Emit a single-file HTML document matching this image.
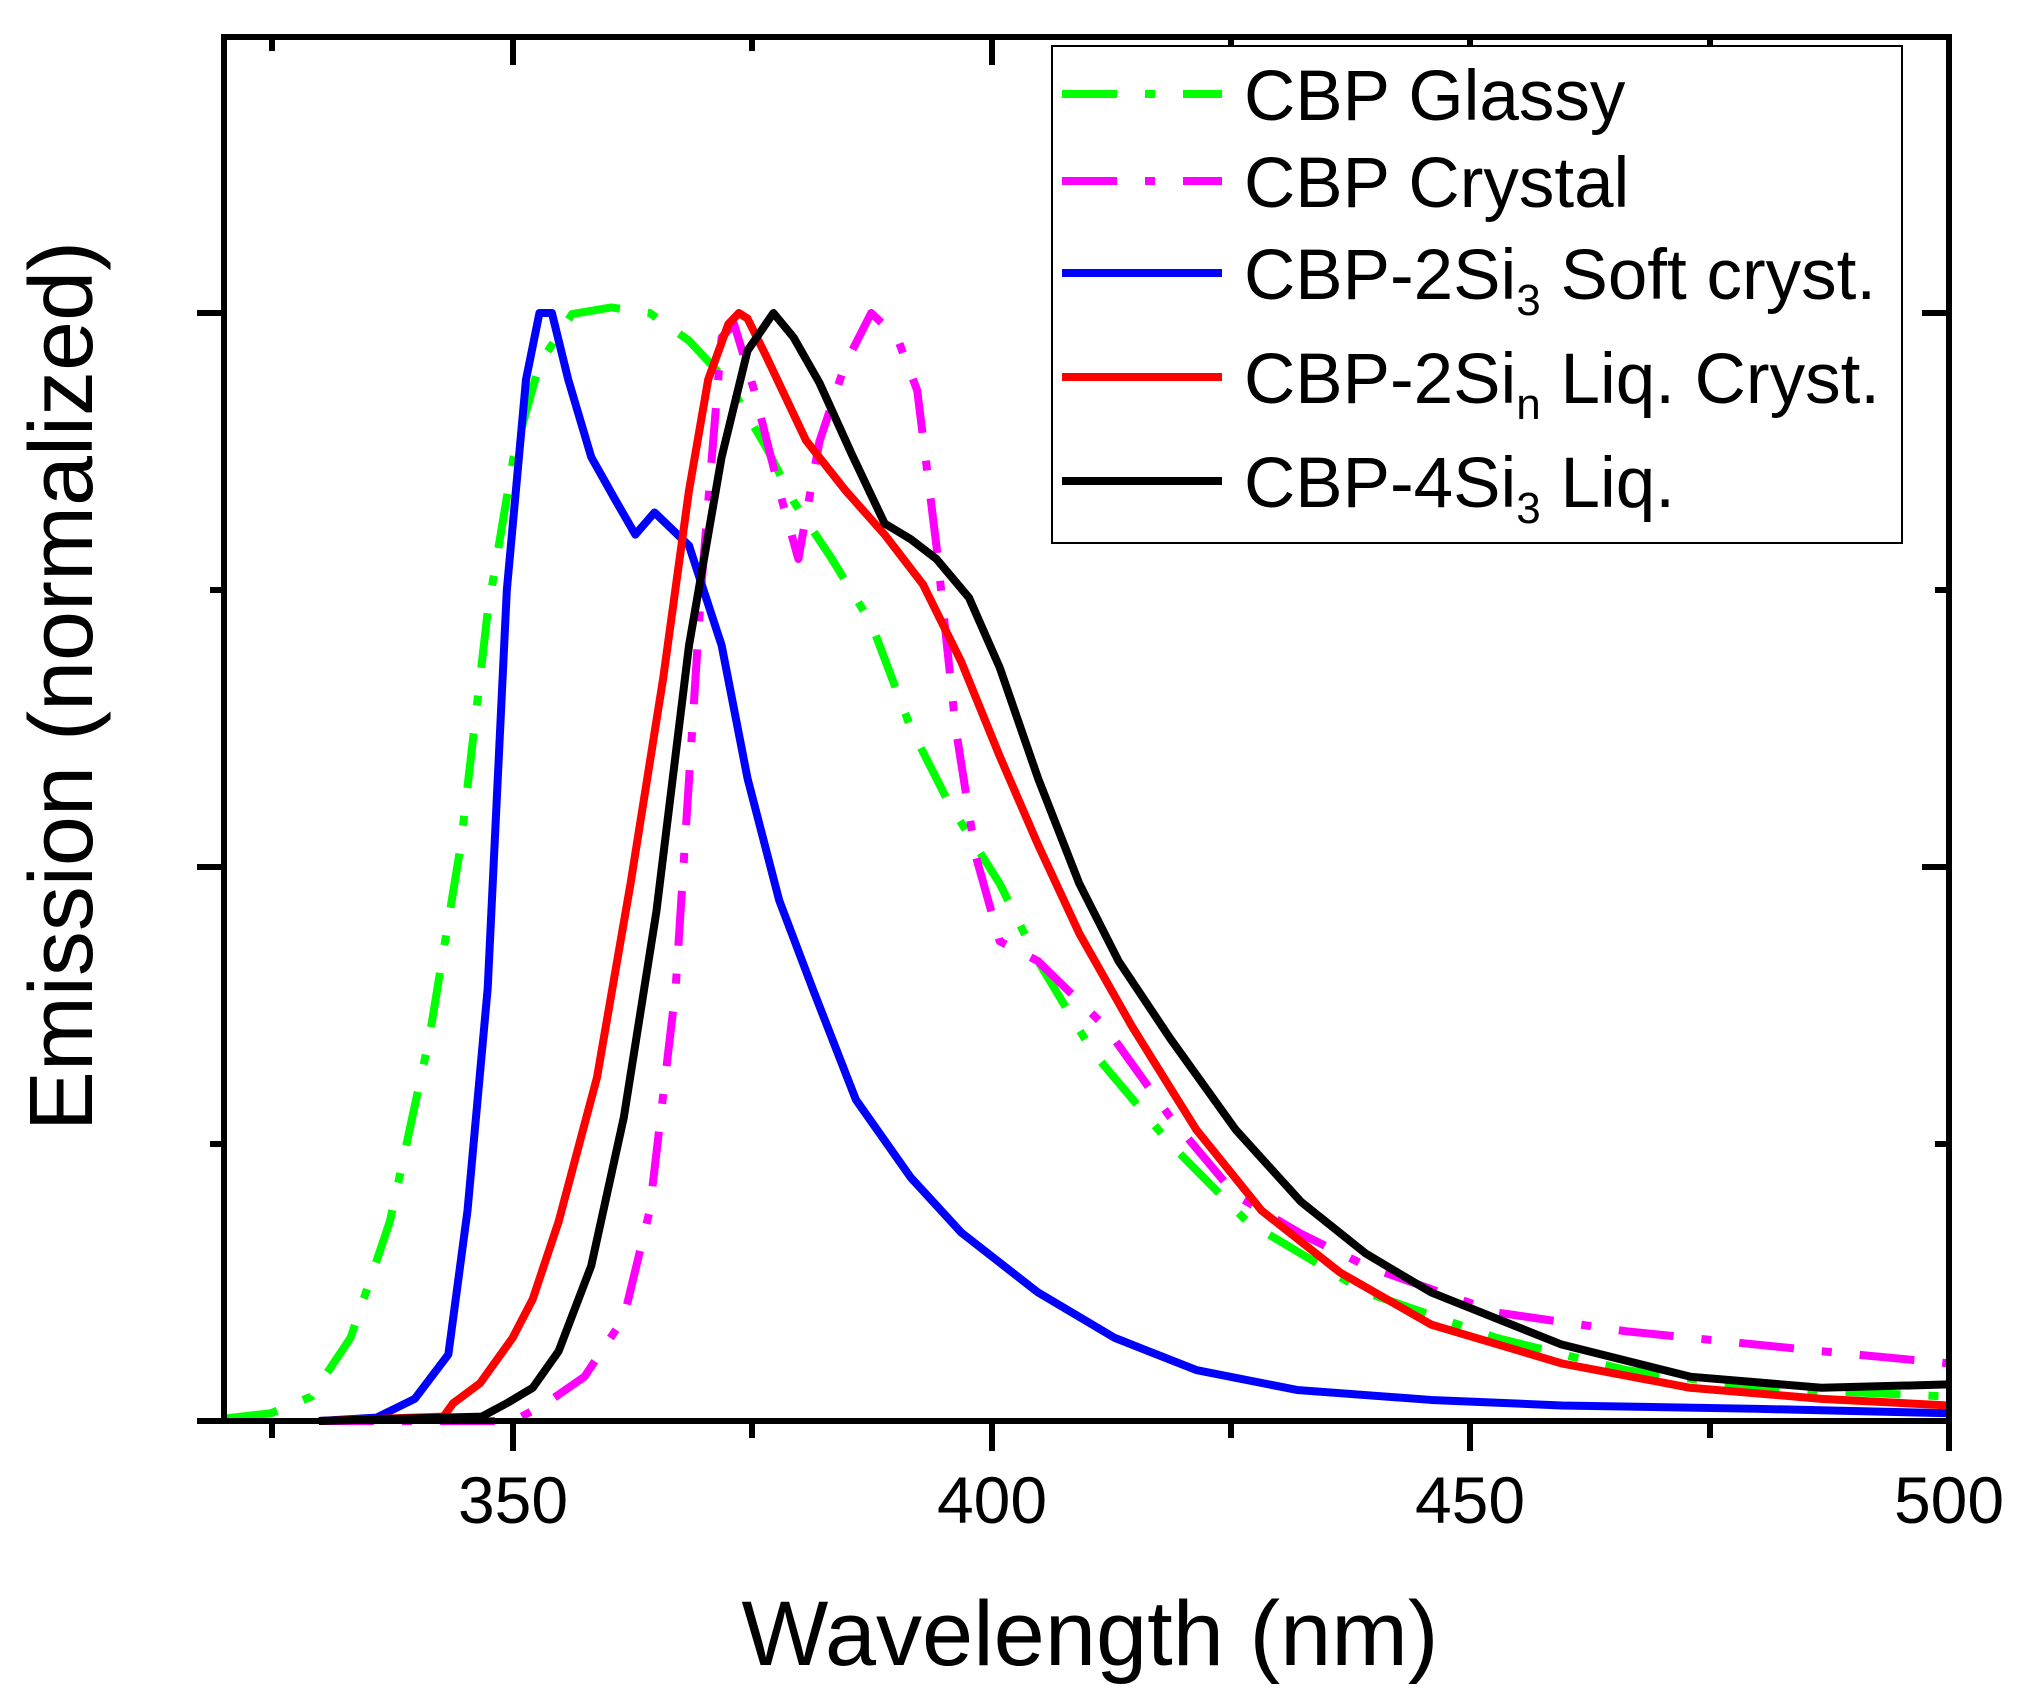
<!DOCTYPE html>
<html><head><meta charset="utf-8"><style>
body{margin:0;background:#fff;}
svg{display:block;font-family:"Liberation Sans",sans-serif;}
</style></head><body>
<svg width="2037" height="1693" viewBox="0 0 2037 1693" xmlns="http://www.w3.org/2000/svg">
<rect width="2037" height="1693" fill="#fff"/>
<g fill="none" stroke-linejoin="round" transform="translate(223,1421) scale(9.589,-1108) translate(-320,0)">
<polyline vector-effect="non-scaling-stroke" stroke-width="8" stroke="#00ff00" stroke-dasharray="55 28 10 28" points="320,0.002 325,0.007 329.2,0.022 333.3,0.075 337.4,0.18 341.5,0.345 344.8,0.52 347.6,0.73 350.3,0.87 353,0.954 356.4,0.999 360.5,1.005 364.5,1.0 368.6,0.975 372.7,0.937 376.7,0.878 379.5,0.83 383.5,0.778 387.6,0.72 391.7,0.626 395.8,0.556 401,0.485 405,0.415 410.7,0.333 418.8,0.25 426.8,0.18 439.2,0.116 452.8,0.075 466.3,0.046 480,0.03 500,0.022"/>
<polyline vector-effect="non-scaling-stroke" stroke-width="8" stroke="#ff00ff" stroke-dasharray="55 28 10 28" points="330,0 350.3,0 353.7,0.016 357.7,0.04 361.8,0.093 364.5,0.19 367.2,0.39 369.9,0.755 372,0.978 373.3,0.99 375.4,0.93 378.1,0.837 380,0.778 382.2,0.884 384.9,0.954 387.6,1.0 390.3,0.978 392.4,0.93 394.4,0.79 396.4,0.626 398.5,0.51 401,0.433 405,0.415 412,0.356 418.8,0.274 425.6,0.204 432.4,0.169 439.2,0.14 452.8,0.098 466.3,0.081 486.7,0.063 500,0.052"/>
<polyline vector-effect="non-scaling-stroke" stroke-width="8" stroke="#0000ff" points="330,0 336,0.003 340,0.02 343.5,0.06 345.5,0.19 347.6,0.39 349.6,0.75 351.6,0.94 353,1.0 354.3,1.0 356,0.94 358.4,0.87 361,0.83 363,0.80 365,0.82 368.6,0.79 372,0.70 374.7,0.58 378,0.47 381.5,0.39 386,0.29 391.7,0.22 397,0.17 405,0.116 413,0.075 421.5,0.046 432,0.028 446,0.019 459.6,0.014 480,0.011 500,0.007"/>
<polyline vector-effect="non-scaling-stroke" stroke-width="8" stroke="#ff0000" points="330,0 343,0.004 344,0.016 346.8,0.034 350.2,0.075 352.3,0.11 355,0.18 359,0.31 362.5,0.485 365.9,0.67 368.6,0.84 370.6,0.94 372.7,0.99 373.8,1.0 374.7,0.995 376.7,0.96 380.8,0.885 384.9,0.84 389,0.80 393,0.755 397,0.685 401,0.60 405,0.52 409.3,0.44 414.8,0.356 421.5,0.263 428.3,0.19 436.5,0.134 446,0.087 459.6,0.052 473,0.03 486.7,0.02 500,0.014"/>
<polyline vector-effect="non-scaling-stroke" stroke-width="8" stroke="#000000" points="330,0 347,0.004 349.6,0.016 352.3,0.03 355,0.063 358.4,0.14 361.8,0.274 365.2,0.46 368.6,0.70 372,0.87 374.7,0.966 377.4,1.0 379.5,0.978 382.2,0.937 385.6,0.872 389,0.81 391.7,0.796 394.4,0.778 397.8,0.743 401,0.68 405,0.58 409.3,0.485 413.4,0.415 418.8,0.345 425.6,0.263 432.4,0.198 439.2,0.151 446,0.116 459.6,0.069 473,0.04 486.7,0.03 500,0.033"/>
</g>
<g stroke="#000" stroke-width="6" fill="none">
<rect x="224" y="37" width="1725" height="1384"/>
<line x1="197" y1="1421" x2="224" y2="1421"/>
<line x1="197" y1="867" x2="224" y2="867"/>
<line x1="197" y1="313" x2="224" y2="313"/>
<line x1="210" y1="1144" x2="224" y2="1144"/>
<line x1="210" y1="590" x2="224" y2="590"/>
<line x1="1949" y1="867" x2="1922" y2="867"/>
<line x1="1949" y1="313" x2="1922" y2="313"/>
<line x1="1949" y1="1144" x2="1935" y2="1144"/>
<line x1="1949" y1="590" x2="1935" y2="590"/>
<line x1="513" y1="1421" x2="513" y2="1451"/>
<line x1="992" y1="1421" x2="992" y2="1451"/>
<line x1="1470" y1="1421" x2="1470" y2="1451"/>
<line x1="1949" y1="1421" x2="1949" y2="1451"/>
<line x1="272" y1="1421" x2="272" y2="1438"/>
<line x1="752" y1="1421" x2="752" y2="1438"/>
<line x1="1231" y1="1421" x2="1231" y2="1438"/>
<line x1="1710" y1="1421" x2="1710" y2="1438"/>
<line x1="513" y1="37" x2="513" y2="65"/>
<line x1="992" y1="37" x2="992" y2="65"/>
<line x1="1470" y1="37" x2="1470" y2="65"/>
<line x1="272" y1="37" x2="272" y2="51"/>
<line x1="752" y1="37" x2="752" y2="51"/>
<line x1="1231" y1="37" x2="1231" y2="51"/>
<line x1="1710" y1="37" x2="1710" y2="51"/>
</g>
<rect x="1052" y="46" width="850" height="497" fill="#fff" stroke="#000" stroke-width="2"/>
<g stroke-width="8">
<line x1="1062" y1="94" x2="1222" y2="94" stroke="#00ff00" stroke-dasharray="55 28 10 28"/>
<line x1="1062" y1="181" x2="1222" y2="181" stroke="#ff00ff" stroke-dasharray="55 28 10 28"/>
<line x1="1062" y1="273" x2="1222" y2="273" stroke="#0000ff"/>
<line x1="1062" y1="377" x2="1222" y2="377" stroke="#ff0000"/>
<line x1="1062" y1="481" x2="1222" y2="481" stroke="#000"/>
</g>
<g font-size="71" fill="#000">
<text x="1244" y="120">CBP Glassy</text>
<text x="1244" y="207">CBP Crystal</text>
<text x="1244" y="299">CBP-2Si<tspan font-size="44" dy="16">3</tspan><tspan dy="-16"> Soft cryst.</tspan></text>
<text x="1244" y="403">CBP-2Si<tspan font-size="44" dy="16">n</tspan><tspan dy="-16"> Liq. Cryst.</tspan></text>
<text x="1244" y="507">CBP-4Si<tspan font-size="44" dy="16">3</tspan><tspan dy="-16"> Liq.</tspan></text>
</g>
<g font-size="66" text-anchor="middle" fill="#000">
<text x="513" y="1523">350</text>
<text x="992" y="1523">400</text>
<text x="1470" y="1523">450</text>
<text x="1949" y="1523">500</text>
</g>
<text x="1090" y="1665" font-size="92" text-anchor="middle">Wavelength (nm)</text>
<text transform="translate(92,686) rotate(-90)" font-size="90" text-anchor="middle">Emission (normalized)</text>
</svg>
</body></html>
